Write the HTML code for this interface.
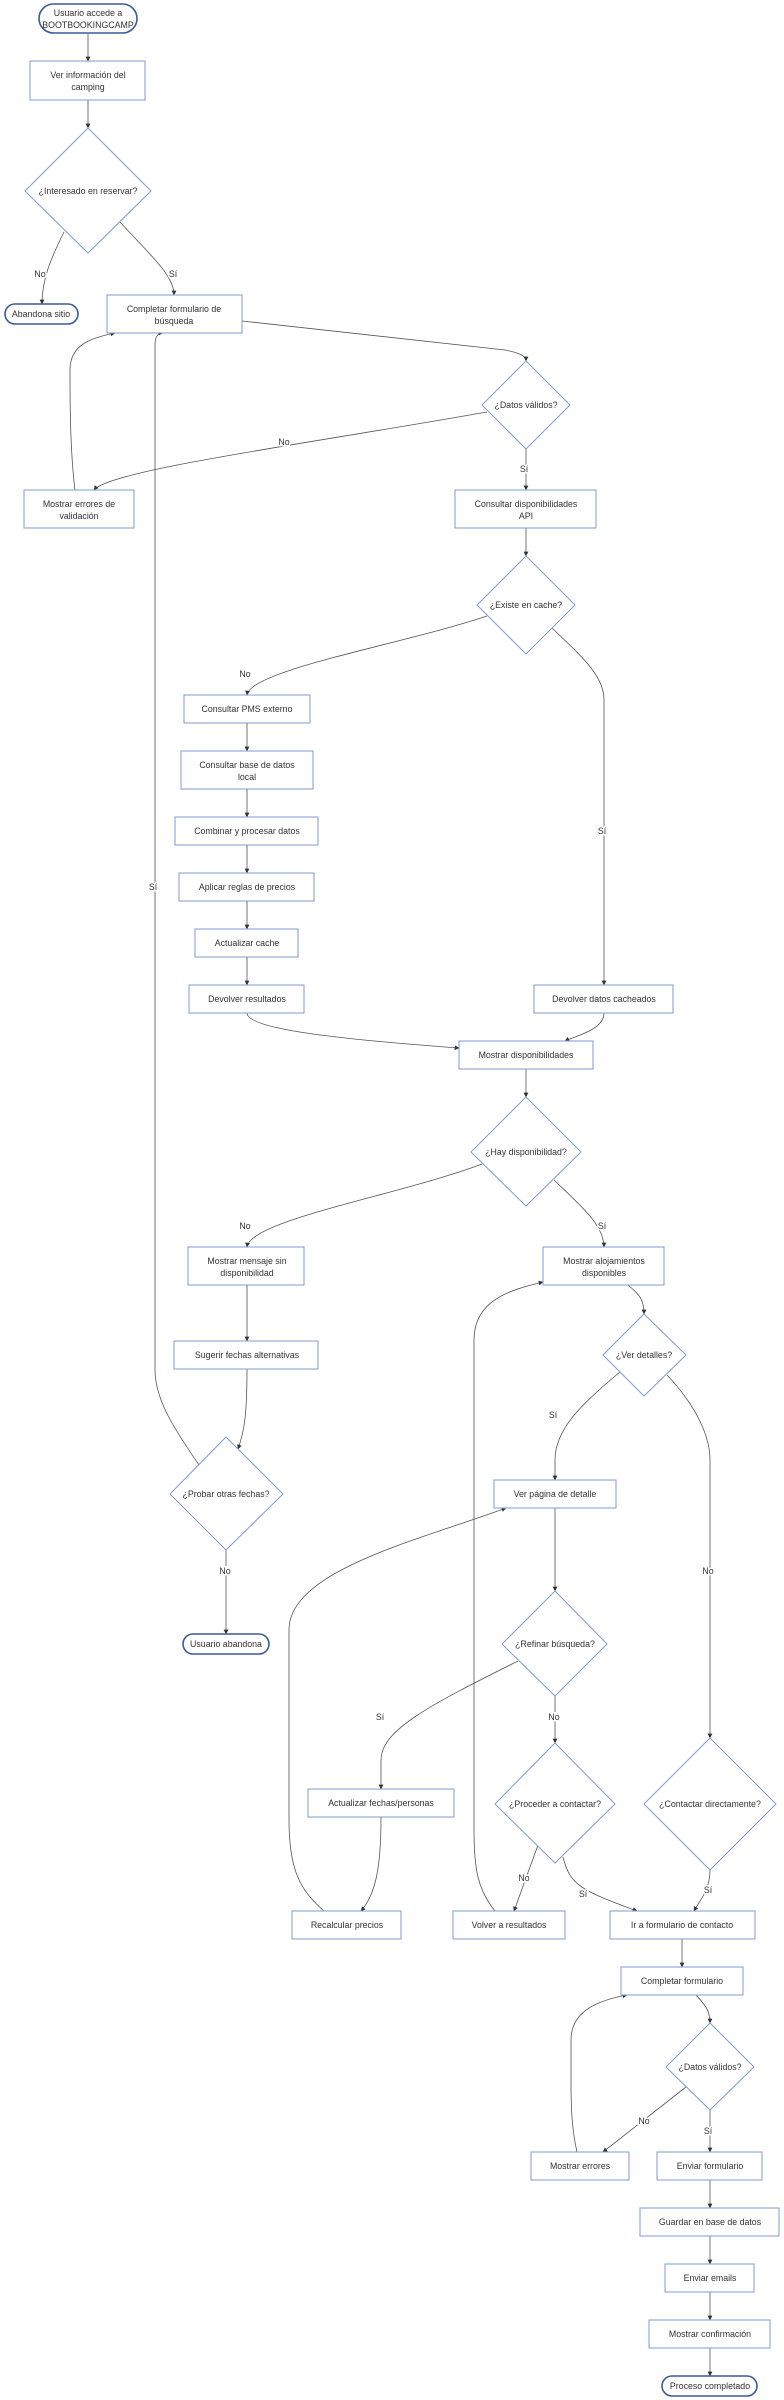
<!DOCTYPE html>
<html><head><meta charset="utf-8"><style>
html,body{margin:0;padding:0;background:#fff;}
svg{display:block;}
text{font-family:"Liberation Sans",sans-serif;font-size:8.8px;fill:#333;text-anchor:middle;}
.n{fill:#fff;stroke:#7f9bd0;stroke-width:1;}
.s{fill:#fff;stroke:#3a5a9c;stroke-width:1.6;}
.e{fill:none;stroke:#555;stroke-width:0.8;marker-end:url(#a);}
.l{paint-order:stroke;stroke:#fff;stroke-width:3px;}
</style></head><body>
<svg width="784" height="2400" viewBox="0 0 784 2400" xmlns="http://www.w3.org/2000/svg">
<defs><marker id="a" viewBox="0 0 10 10" refX="9" refY="5" markerWidth="6" markerHeight="6" orient="auto"><path d="M0,0L10,5L0,10z" fill="#333"/></marker></defs>

<path class="e" d="M88,34 L88,61"/>
<path class="e" d="M88,100 L88,128"/>
<path class="e" d="M64,232 C50,260 42,280 42,304"/>
<path class="e" d="M120,222 C150,255 174,275 174,295"/>
<path class="e" d="M242,321 L505,350 C520,353 526,356 526,361"/>
<path class="e" d="M487,412 C300,445 110,470 94,490"/>
<path class="e" d="M526,449 L526,490"/>
<path class="e" d="M75,490 C70,450 70,400 70,370 C70,345 90,338 115,333"/>
<path class="e" d="M199,1465 C175,1430 155,1400 155,1370 L155,345 C155,336 158,333 163,333"/>
<path class="e" d="M526,528 L526,556"/>
<path class="e" d="M487,616 C400,645 250,670 247,695"/>
<path class="e" d="M552,628 C580,655 604,675 604,700 L604,985"/>
<path class="e" d="M247,723 L247,751"/>
<path class="e" d="M247,789 L247,817"/>
<path class="e" d="M247,845 L247,873"/>
<path class="e" d="M247,901 L247,929"/>
<path class="e" d="M247,957 L247,985"/>
<path class="e" d="M247,1013 C247,1030 350,1040 459,1048"/>
<path class="e" d="M604,1013 C604,1030 575,1036 565,1041"/>
<path class="e" d="M526,1069 L526,1097"/>
<path class="e" d="M482,1164 C400,1195 250,1220 247,1247"/>
<path class="e" d="M554,1180 C580,1205 604,1225 604,1247"/>
<path class="e" d="M247,1285 L247,1341"/>
<path class="e" d="M247,1369 C247,1410 245,1430 238,1449"/>
<path class="e" d="M226,1550 L226,1634"/>
<path class="e" d="M628,1285 C640,1295 644,1300 644,1314"/>
<path class="e" d="M620,1372 C580,1405 555,1430 555,1460 L555,1480"/>
<path class="e" d="M667,1375 C700,1410 710,1440 710,1460 L710,1738"/>
<path class="e" d="M555,1508 L555,1591"/>
<path class="e" d="M518,1661 C430,1705 381,1730 381,1760 L381,1789"/>
<path class="e" d="M555,1696 L555,1743"/>
<path class="e" d="M381,1817 C381,1870 375,1895 361,1911"/>
<path class="e" d="M324,1911 C300,1890 289,1870 289,1820 L289,1630 C289,1570 420,1540 506,1508"/>
<path class="e" d="M538,1845 L514,1911"/>
<path class="e" d="M563,1857 C570,1885 580,1890 637,1911"/>
<path class="e" d="M710,1870 C710,1890 700,1900 694,1911"/>
<path class="e" d="M495,1911 C478,1890 474,1870 474,1830 L474,1340 C474,1300 510,1290 543,1282"/>
<path class="e" d="M682,1939 L682,1967"/>
<path class="e" d="M696,1995 C705,2005 710,2010 710,2023"/>
<path class="e" d="M686,2087 L603,2152"/>
<path class="e" d="M710,2110 L710,2152"/>
<path class="e" d="M577,2152 C572,2130 571,2110 571,2080 L571,2040 C571,2010 600,2000 627,1995"/>
<path class="e" d="M710,2180 L710,2208"/>
<path class="e" d="M710,2236 L710,2264"/>
<path class="e" d="M710,2292 L710,2320"/>
<path class="e" d="M710,2348 L710,2376"/>

<g>
<text class="l" x="40" y="277">No</text>
<text class="l" x="173" y="277">Sí</text>
<text class="l" x="284" y="445">No</text>
<text class="l" x="524" y="472">Sí</text>
<text class="l" x="245" y="677">No</text>
<text class="l" x="602" y="834">Sí</text>
<text class="l" x="153" y="890">Sí</text>
<text class="l" x="245" y="1229">No</text>
<text class="l" x="602" y="1229">Sí</text>
<text class="l" x="553" y="1418">Sí</text>
<text class="l" x="225" y="1574">No</text>
<text class="l" x="708" y="1574">No</text>
<text class="l" x="380" y="1720">Sí</text>
<text class="l" x="554" y="1720">No</text>
<text class="l" x="524" y="1881">No</text>
<text class="l" x="583" y="1897">Sí</text>
<text class="l" x="708" y="1893">Sí</text>
<text class="l" x="644" y="2124">No</text>
<text class="l" x="708" y="2134">Sí</text>
</g>

<rect class="s" x="39" y="4" width="98" height="29" rx="14.5"/>
<text x="88" y="16">Usuario accede a</text><text x="88" y="28">BOOTBOOKINGCAMP</text>

<rect class="n" x="30" y="61" width="115" height="39"/>
<text x="88" y="78">Ver información del</text><text x="88" y="90">camping</text>

<polygon class="n" points="88,128 151,191 88,253 25,191"/>
<text x="88" y="194">¿Interesado en reservar?</text>

<rect class="s" x="5" y="304" width="73" height="20" rx="10"/>
<text x="41" y="317">Abandona sitio</text>

<rect class="n" x="107" y="295" width="135" height="38"/>
<text x="174" y="312">Completar formulario de</text><text x="174" y="324">búsqueda</text>

<polygon class="n" points="526,361 570,405 526,449 482,405"/>
<text x="526" y="408">¿Datos válidos?</text>

<rect class="n" x="24" y="490" width="110" height="38"/>
<text x="79" y="507">Mostrar errores de</text><text x="79" y="519">validación</text>

<rect class="n" x="455" y="490" width="141" height="38"/>
<text x="526" y="507">Consultar disponibilidades</text><text x="526" y="519">API</text>

<polygon class="n" points="526,556 575,605 526,654 477,605"/>
<text x="526" y="608">¿Existe en cache?</text>

<rect class="n" x="184" y="695" width="126" height="28"/><text x="247" y="712">Consultar PMS externo</text>
<rect class="n" x="181" y="751" width="132" height="38"/><text x="247" y="768">Consultar base de datos</text><text x="247" y="780">local</text>
<rect class="n" x="175" y="817" width="143" height="28"/><text x="247" y="834">Combinar y procesar datos</text>
<rect class="n" x="179" y="873" width="135" height="28"/><text x="247" y="890">Aplicar reglas de precios</text>
<rect class="n" x="195" y="929" width="103" height="28"/><text x="247" y="946">Actualizar cache</text>
<rect class="n" x="189" y="985" width="115" height="28"/><text x="247" y="1002">Devolver resultados</text>
<rect class="n" x="534" y="985" width="139" height="28"/><text x="604" y="1002">Devolver datos cacheados</text>
<rect class="n" x="459" y="1041" width="134" height="28"/><text x="526" y="1058">Mostrar disponibilidades</text>

<polygon class="n" points="526,1097 581,1152 526,1206 471,1152"/>
<text x="526" y="1155">¿Hay disponibilidad?</text>

<rect class="n" x="188" y="1247" width="116" height="38"/><text x="247" y="1264">Mostrar mensaje sin</text><text x="247" y="1276">disponibilidad</text>
<rect class="n" x="543" y="1247" width="121" height="38"/><text x="604" y="1264">Mostrar alojamientos</text><text x="604" y="1276">disponibles</text>
<rect class="n" x="174" y="1341" width="144" height="28"/><text x="247" y="1358">Sugerir fechas alternativas</text>

<polygon class="n" points="644,1314 686,1355 644,1396 603,1355"/>
<text x="644" y="1358">¿Ver detalles?</text>

<polygon class="n" points="226,1437 283,1494 226,1550 170,1494"/>
<text x="226" y="1497">¿Probar otras fechas?</text>

<rect class="s" x="183" y="1634" width="86" height="20" rx="10"/><text x="226" y="1647">Usuario abandona</text>

<rect class="n" x="494" y="1480" width="122" height="28"/><text x="555" y="1497">Ver página de detalle</text>

<polygon class="n" points="555,1591 607,1644 555,1696 502,1644"/>
<text x="555" y="1647">¿Refinar búsqueda?</text>

<polygon class="n" points="555,1743 615,1804 555,1863 495,1804"/>
<text x="555" y="1807">¿Proceder a contactar?</text>

<polygon class="n" points="710,1738 776,1804 710,1870 644,1804"/>
<text x="710" y="1807">¿Contactar directamente?</text>

<rect class="n" x="308" y="1789" width="146" height="28"/><text x="381" y="1806">Actualizar fechas/personas</text>
<rect class="n" x="292" y="1911" width="109" height="28"/><text x="347" y="1928">Recalcular precios</text>
<rect class="n" x="453" y="1911" width="112" height="28"/><text x="509" y="1928">Volver a resultados</text>
<rect class="n" x="610" y="1911" width="145" height="28"/><text x="682" y="1928">Ir a formulario de contacto</text>
<rect class="n" x="621" y="1967" width="122" height="28"/><text x="682" y="1984">Completar formulario</text>

<polygon class="n" points="710,2023 754,2067 710,2110 666,2067"/>
<text x="710" y="2070">¿Datos válidos?</text>

<rect class="n" x="531" y="2152" width="98" height="28"/><text x="580" y="2169">Mostrar errores</text>
<rect class="n" x="657" y="2152" width="105" height="28"/><text x="710" y="2169">Enviar formulario</text>
<rect class="n" x="640" y="2208" width="139" height="28"/><text x="710" y="2225">Guardar en base de datos</text>
<rect class="n" x="665" y="2264" width="89" height="28"/><text x="710" y="2281">Enviar emails</text>
<rect class="n" x="649" y="2320" width="121" height="28"/><text x="710" y="2337">Mostrar confirmación</text>
<rect class="s" x="662" y="2376" width="95" height="20" rx="10"/><text x="710" y="2389">Proceso completado</text>
</svg>
</body></html>
